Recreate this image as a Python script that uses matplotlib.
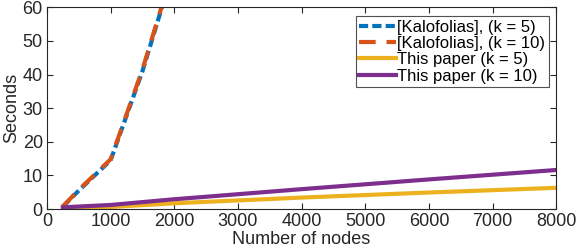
import matplotlib
matplotlib.use("Agg")
import matplotlib.pyplot as plt

plt.rcParams['font.family'] = ['Liberation Sans', 'DejaVu Sans']

# Data
kal_x = [250, 500, 1000, 1500, 2000]
kal_k5 = [0.7, 5.5, 14.5, 41.0, 72.0]
kal_k10 = [0.8, 5.7, 14.8, 41.5, 72.5]
paper_x = [250, 1000, 2000, 4000, 6000, 8000]
paper_k5 = [0.1, 0.6, 1.7, 3.4, 4.9, 6.3]
paper_k10 = [0.5, 1.2, 2.9, 5.9, 8.8, 11.6]
labels = ['[Kalofolias], (k = 5)', '[Kalofolias], (k = 10)',
          'This paper (k = 5)', 'This paper (k = 10)']
xticks = [0, 1000, 2000, 3000, 4000, 5000, 6000, 7000, 8000]
yticks = [0, 10, 20, 30, 40, 50, 60]

txt = '#262626'
fig = plt.figure(figsize=(5.8, 2.5), dpi=100)
ax = fig.add_axes([0.081, 0.164, 0.878, 0.807])

ax.plot(kal_x, kal_k5, color='#0072BD', lw=3, ls=(0, (2.2, 1.0)), label=labels[0])
ax.plot(kal_x, kal_k10, color='#D95319', lw=3, ls=(0, (4.0, 2.6)), label=labels[1])
ax.plot(paper_x, paper_k5, color='#EDB120', lw=3, label=labels[2])
ax.plot(paper_x, paper_k10, color='#7E2F8E', lw=3, label=labels[3])

ax.set_xlim(0, 8000)
ax.set_ylim(0, 60)
ax.set_xticks(xticks)
ax.set_yticks(yticks)
ax.tick_params(direction='in', top=True, right=True, labelsize=13, colors=txt,
               length=4, width=0.8)
ax.tick_params(axis='x', pad=3)
ax.tick_params(axis='y', pad=3)
for s in ax.spines.values():
    s.set_color(txt)
    s.set_linewidth(0.8)
ax.set_xlabel('Number of nodes', fontsize=13, color=txt, labelpad=0.5)
ax.set_ylabel('Seconds', fontsize=13, color=txt, labelpad=2)

leg = ax.legend(loc='upper right', bbox_to_anchor=(0.985, 0.955), fontsize=12,
                frameon=True, fancybox=False, edgecolor=txt, handlelength=2.2,
                handletextpad=0.1, labelspacing=0.08, borderpad=0.2,
                borderaxespad=0.0)
leg.get_frame().set_linewidth(0.8)
for t in leg.get_texts():
    t.set_color('black')

fig.savefig('out.png', dpi=100)
